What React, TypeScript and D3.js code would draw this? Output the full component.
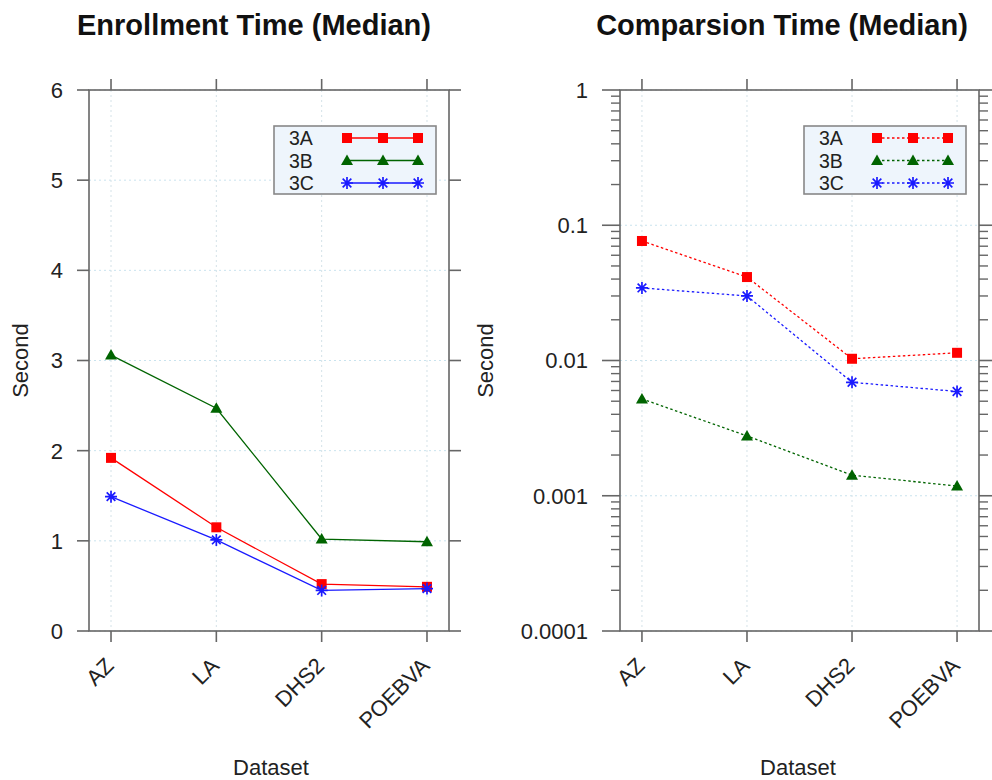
import React from 'react';
import * as d3 from 'd3';

const categories = ['AZ', 'LA', 'DHS2', 'POEBVA'];
const seriesNames = ['3A', '3B', '3C'];
const enroll3A = [1.92, 1.15, 0.52, 0.49];
const enroll3B = [3.06, 2.47, 1.02, 0.99];
const enroll3C = [1.49, 1.01, 0.45, 0.47];
const compare3A = [0.0765, 0.0414, 0.0103, 0.0114];
const compare3B = [0.0052, 0.00277, 0.00142, 0.00118];
const compare3C = [0.0344, 0.03, 0.0069, 0.0059];
const enrollTicks = [0, 1, 2, 3, 4, 5, 6];
const enrollTickLabels = ['0', '1', '2', '3', '4', '5', '6'];
const compareTicks = [0.0001, 0.001, 0.01, 0.1, 1];
const compareTickLabels = ['0.0001', '0.001', '0.01', '0.1', '1'];
const minorMultipliers = [2, 3, 4, 5, 6, 7, 8, 9];

const COLORS = ['#ff0000', '#006400', '#1a1aff'];
const MARKERS = ['square', 'triangle', 'asterisk'];
const FONT = '"Liberation Sans", Arial, Helvetica, sans-serif';
const AXIS = '#666666';
const GRID = '#c9e3ee';

function Marker({ type, x, y, color }: { type: string; x: number; y: number; color: string }) {
  if (type === 'square') {
    return <rect x={x - 5} y={y - 5} width={10} height={10} fill={color} />;
  }
  if (type === 'triangle') {
    return <path d={`M${x},${y - 6}L${x + 6},${y + 4.5}L${x - 6},${y + 4.5}Z`} fill={color} />;
  }
  const r = 6;
  const d = r * 0.72;
  return (
    <path
      d={`M${x - r},${y}L${x + r},${y}M${x},${y - r}L${x},${y + r}M${x - d},${y - d}L${x + d},${y + d}M${x - d},${y + d}L${x + d},${y - d}`}
      stroke={color}
      strokeWidth={1.7}
      fill="none"
    />
  );
}

type PanelProps = {
  left: number;
  right: number;
  top: number;
  bottom: number;
  yScale: any;
  ticks: number[];
  tickLabels: string[];
  minor: number[];
  majorLen: number;
  series: number[][];
  dashed: boolean;
  title: string;
  titleX: number;
  ylabelX: number;
  xlabelX: number;
  legendLeft: number;
};

function Panel(p: PanelProps) {
  const x = d3.scalePoint<string>().domain(categories).range([p.left, p.right]).padding(0.209);
  const y = p.yScale;
  const line = d3
    .line<number>()
    .x((_, i) => x(categories[i]) as number)
    .y((v) => y(v));
  const dash = p.dashed ? '2.5,2.5' : undefined;
  const legTop = 126;
  const legBottom = 194;
  const legRight = p.legendLeft + 162;
  const rowY = [138, 160.5, 183];
  const legMarkX = [p.legendLeft + 73, p.legendLeft + 109, p.legendLeft + 144];
  return (
    <g>
      <text x={p.titleX} y={35} textAnchor="middle" fontFamily={FONT} fontWeight="bold" fontSize={29} fill="#111">
        {p.title}
      </text>
      {/* grid */}
      {p.ticks.map((t) => (
        <line key={'gy' + t} x1={p.left} x2={p.right} y1={y(t)} y2={y(t)} stroke={GRID} strokeDasharray="2,3" strokeWidth={1} />
      ))}
      {categories.map((c) => (
        <line key={'gx' + c} x1={x(c)} x2={x(c)} y1={p.top} y2={p.bottom} stroke="#d4e2e8" strokeDasharray="2,3" strokeWidth={1} />
      ))}
      {/* box */}
      <rect x={p.left} y={p.top} width={p.right - p.left} height={p.bottom - p.top} fill="none" stroke={AXIS} strokeWidth={1.6} />
      {/* y major ticks */}
      {p.ticks.map((t, i) => (
        <g key={'ty' + t}>
          <line x1={p.left - p.majorLen} x2={p.left} y1={y(t)} y2={y(t)} stroke={AXIS} strokeWidth={1.6} />
          <line x1={p.right} x2={p.right + p.majorLen} y1={y(t)} y2={y(t)} stroke={AXIS} strokeWidth={1.6} />
          <text x={p.left - p.majorLen - 14} y={y(t)} dy="0.36em" textAnchor="end" fontFamily={FONT} fontSize={22} fill="#222">
            {p.tickLabels[i]}
          </text>
        </g>
      ))}
      {/* minor ticks */}
      {p.minor.map((m, i) => (
        <g key={'mn' + i}>
          <line x1={p.left - 9} x2={p.left} y1={y(m)} y2={y(m)} stroke={AXIS} strokeWidth={1.4} />
          <line x1={p.right} x2={p.right + 9} y1={y(m)} y2={y(m)} stroke={AXIS} strokeWidth={1.4} />
        </g>
      ))}
      {/* x ticks */}
      {categories.map((c) => (
        <g key={'tx' + c}>
          <line x1={x(c)} x2={x(c)} y1={p.bottom} y2={p.bottom + 11} stroke={AXIS} strokeWidth={1.6} />
          <line x1={x(c)} x2={x(c)} y1={p.top - 11} y2={p.top} stroke={AXIS} strokeWidth={1.6} />
          <text
            transform={`translate(${(x(c) as number) + 4},${667}) rotate(-45)`}
            textAnchor="end"
            fontFamily={FONT}
            fontSize={22}
            fill="#222"
          >
            {c}
          </text>
        </g>
      ))}
      {/* series */}
      {p.series.map((vals, si) => (
        <g key={'s' + si}>
          <path d={line(vals) || ''} fill="none" stroke={COLORS[si]} strokeWidth={1.3} strokeDasharray={dash} />
          {vals.map((v, i) => (
            <Marker key={i} type={MARKERS[si]} x={x(categories[i]) as number} y={y(v)} color={COLORS[si]} />
          ))}
        </g>
      ))}
      {/* legend */}
      <rect x={p.legendLeft} y={legTop} width={legRight - p.legendLeft} height={legBottom - legTop} fill="#eef5fc" stroke="#888" strokeWidth={1.6} />
      {seriesNames.map((s, si) => (
        <g key={'lg' + s}>
          <text x={p.legendLeft + 15} y={rowY[si]} dy="0.36em" fontFamily={FONT} fontSize={19.5} fill="#222">
            {s}
          </text>
          <line x1={legMarkX[0]} x2={legMarkX[2]} y1={rowY[si]} y2={rowY[si]} stroke={COLORS[si]} strokeWidth={1.3} strokeDasharray={dash} />
          {legMarkX.map((lx, k) => (
            <Marker key={k} type={MARKERS[si]} x={lx} y={rowY[si]} color={COLORS[si]} />
          ))}
        </g>
      ))}
      {/* axis labels */}
      <text
        transform={`translate(${p.ylabelX},${(p.top + p.bottom) / 2}) rotate(-90)`}
        textAnchor="middle"
        fontFamily={FONT}
        fontSize={22}
        fill="#222"
      >
        Second
      </text>
      <text x={p.xlabelX} y={775} textAnchor="middle" fontFamily={FONT} fontSize={22} fill="#222">
        Dataset
      </text>
    </g>
  );
}

export default function App() {
  const top = 90;
  const bottom = 631;
  const yLeft = d3.scaleLinear().domain([0, 6]).range([bottom, top]);
  const yRight = d3.scaleLog().domain([0.0001, 1]).range([bottom, top]);
  const minorRight: number[] = [];
  compareTicks.slice(0, -1).forEach((t) => minorMultipliers.forEach((m) => minorRight.push(t * m)));
  return (
    <svg width={992} height={780} style={{ position: 'absolute', left: 0, top: 0, background: '#fff' }}>
      <rect x={0} y={0} width={992} height={780} fill="#fff" />
      <Panel
        left={89}
        right={449}
        top={top}
        bottom={bottom}
        yScale={yLeft}
        ticks={enrollTicks}
        tickLabels={enrollTickLabels}
        minor={[]}
        majorLen={12}
        series={[enroll3A, enroll3B, enroll3C]}
        dashed={false}
        title="Enrollment Time (Median)"
        titleX={254}
        ylabelX={28}
        xlabelX={271}
        legendLeft={274}
      />
      <Panel
        left={620}
        right={979}
        top={top}
        bottom={bottom}
        yScale={yRight}
        ticks={compareTicks}
        tickLabels={compareTickLabels}
        minor={minorRight}
        majorLen={18}
        series={[compare3A, compare3B, compare3C]}
        dashed={true}
        title="Comparsion Time (Median)"
        titleX={782}
        ylabelX={493}
        xlabelX={798}
        legendLeft={804}
      />
    </svg>
  );
}
